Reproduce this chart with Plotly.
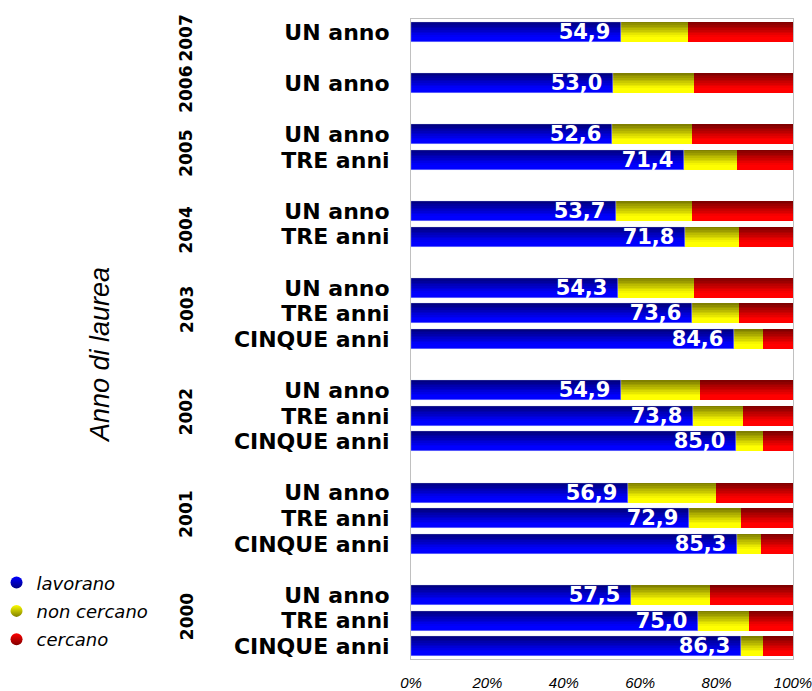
import plotly.graph_objects as go

# ---------------- data ----------------
row_year = ["2007", "2006", "2005", "2005", "2004", "2004",
            "2003", "2003", "2003", "2002", "2002", "2002",
            "2001", "2001", "2001", "2000", "2000", "2000"]
row_label = ["UN anno", "UN anno", "UN anno", "TRE anni", "UN anno", "TRE anni",
             "UN anno", "TRE anni", "CINQUE anni", "UN anno", "TRE anni", "CINQUE anni",
             "UN anno", "TRE anni", "CINQUE anni", "UN anno", "TRE anni", "CINQUE anni"]
lavorano = [54.9, 53.0, 52.6, 71.4, 53.7, 71.8, 54.3, 73.6, 84.6,
            54.9, 73.8, 85.0, 56.9, 72.9, 85.3, 57.5, 75.0, 86.3]
non_cercano = [17.7, 21.0, 21.0, 14.0, 19.9, 14.1, 19.8, 12.3, 7.6,
               20.8, 13.1, 7.2, 23.0, 13.5, 6.3, 20.8, 13.5, 5.9]
cercano = [27.4, 26.0, 26.4, 14.6, 26.4, 14.1, 25.9, 14.1, 7.8,
           24.3, 13.1, 7.8, 20.1, 13.6, 8.4, 21.7, 11.5, 7.8]
series_names = ["lavorano", "non cercano", "cercano"]
x_ticks = [0, 20, 40, 60, 80, 100]
x_tick_text = ["0%", "20%", "40%", "60%", "80%", "100%"]

# ---------------- layout helpers ----------------
# row positions: one empty slot between year groups
pos = []
p = 0
for i, yr in enumerate(row_year):
    if i > 0 and yr != row_year[i - 1]:
        p += 1
    pos.append(p)
    p += 1
last = pos[-1]

years_order = []
for yr in row_year:
    if yr not in years_order:
        years_order.append(yr)
year_center = {}
for yr in years_order:
    n = row_year.count(yr)
    m = sum(q for q, y in zip(pos, row_year) if y == yr) / n
    year_center[yr] = m + (0.25 if n < 3 else -0.15)

dark = [(0, 0, 128), (128, 128, 0), (128, 0, 0)]
bright = [(0, 0, 255), (255, 255, 0), (255, 0, 0)]

bases = [
    [0] * len(lavorano),
    list(lavorano),
    [a + b for a, b in zip(lavorano, non_cercano)],
]
vals = [lavorano, non_cercano, cercano]

W = 0.78
N = 12
fig = go.Figure()
for s in range(3):
    for k in range(N):
        t = min(1.0, k / (N * 0.72))
        c = tuple(int(round(d + (b - d) * t)) for d, b in zip(dark[s], bright[s]))
        off = -W / 2 + k * W / N
        fig.add_trace(go.Bar(
            x=vals[s], y=pos, base=bases[s], orientation="h",
            offset=off, width=W / 2 - off,
            marker=dict(color="rgb(%d,%d,%d)" % c, line=dict(width=0)),
            showlegend=False, hoverinfo="skip",
        ))

# value labels on the blue segment
fig.add_trace(go.Bar(
    x=lavorano, y=pos, base=[0] * len(lavorano), orientation="h",
    width=W, offset=-W / 2,
    marker=dict(color="rgba(0,0,0,0)"),
    texttemplate="%{x:.1f}\u00a0", textposition="inside", insidetextanchor="end",
    constraintext="none",
    textfont=dict(family="DejaVu Sans", size=21, color="white", weight="bold"),
    showlegend=False, hoverinfo="skip",
))

# legend entries (circular markers)
for s in range(3):
    fig.add_trace(go.Scatter(
        x=[None], y=[None], mode="markers", name=series_names[s],
        legendgroup=series_names[s],
        marker=dict(size=13, symbol="circle",
                    color="rgb(%d,%d,%d)" % bright[s],
                    gradient=dict(type="vertical", color="rgb(%d,%d,%d)" % dark[s])),
    ))

annotations = []
for yr in years_order:
    annotations.append(dict(
        x=-0.588, xref="paper", y=year_center[yr], yref="y",
        xanchor="center", yanchor="middle",
        text=yr, textangle=-90, showarrow=False,
        font=dict(family="DejaVu Sans", size=17, color="black", weight="bold"),
    ))
annotations.append(dict(
    x=-0.814, xref="paper", y=0.475, yref="paper",
    xanchor="center", yanchor="middle",
    text="Anno di laurea", textangle=-90, showarrow=False,
    font=dict(family="Liberation Sans", size=27, color="black", style="italic"),
))

fig.update_layout(
    width=812, height=691,
    margin=dict(l=411, r=19, t=19, b=32, autoexpand=False),
    paper_bgcolor="white", plot_bgcolor="white",
    barmode="overlay", separators=",.",
    bargap=0,
    annotations=annotations,
    legend=dict(
        x=-1.085, xanchor="left", y=0.148, yanchor="top",
        font=dict(family="DejaVu Sans", size=18, color="black", style="italic"),
        itemsizing="constant", traceorder="grouped", tracegroupgap=2,
        bgcolor="rgba(0,0,0,0)",
    ),
    xaxis=dict(
        range=[0, 100], tickvals=x_ticks, ticktext=x_tick_text,
        showgrid=False, zeroline=False, automargin=False,
        showline=True, mirror=True, linecolor="#c0c0c0", linewidth=1,
        ticks="", ticklabelstandoff=10, ticklabeloverflow="allow",
        tickfont=dict(family="Liberation Sans", size=15, color="black", style="italic"),
    ),
    yaxis=dict(
        range=[last + 0.5, -0.5], tickvals=pos, ticktext=row_label,
        showgrid=False, zeroline=False, automargin=False,
        showline=True, mirror=True, linecolor="#c0c0c0", linewidth=1,
        ticks="", ticklabelstandoff=16,
        tickfont=dict(family="DejaVu Sans", size=22, color="black", weight="bold"),
    ),
)

# remove the default page margin so the figure sits at the window's top-left corner
fig.write_html(
    "out.html",
    config={"displayModeBar": False},
    post_script="document.body.style.margin='0';document.body.style.overflow='hidden';",
)
